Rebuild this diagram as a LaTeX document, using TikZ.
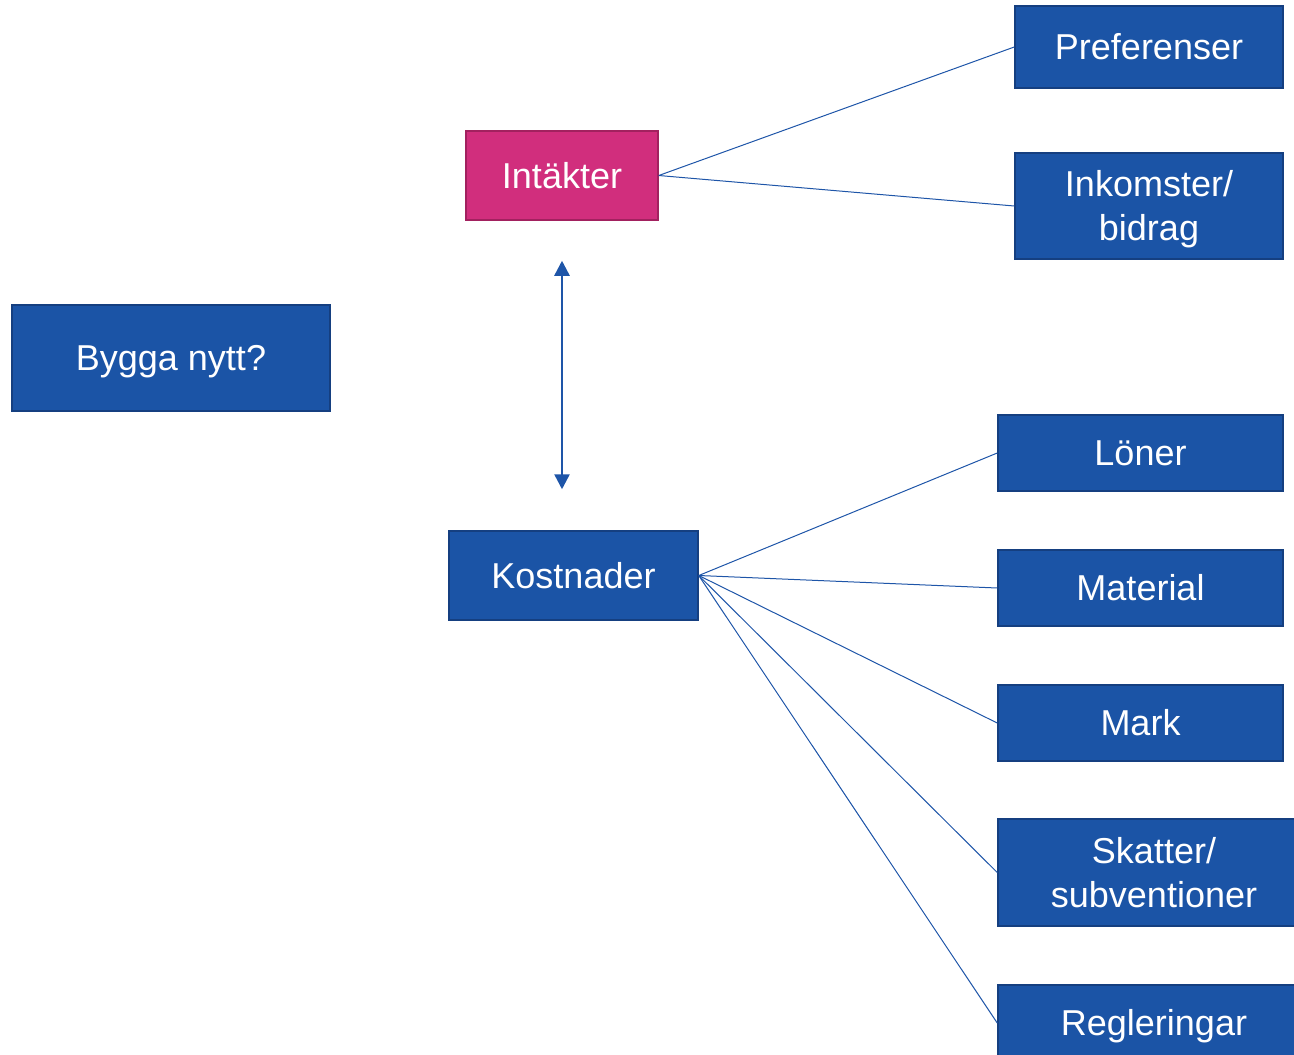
\documentclass[tikz,border=0pt]{standalone}
\usepackage{fontspec}
\setmainfont{Liberation Sans}
\usetikzlibrary{arrows.meta}
\definecolor{bfill}{HTML}{1B54A6}
\definecolor{bdraw}{HTML}{153F80}
\definecolor{mfill}{HTML}{D12E7D}
\definecolor{mdraw}{HTML}{A2215F}
\definecolor{lcol}{HTML}{1E55A8}
\newcommand{\lstrut}{\rule[-7.6pt]{0pt}{40.2pt}}
\tikzset{
  box/.style={draw=bdraw, fill=bfill, line width=1.5pt, text=white, align=center,
    inner sep=0pt, font=\fontsize{36}{44}\selectfont},
  mbox/.style={box, draw=mdraw, fill=mfill},
  link/.style={draw=lcol, line width=1pt},
  dbl/.style={draw=lcol, line width=2.5pt, {Triangle[length=15pt,width=15pt]}-{Triangle[length=15pt,width=15pt]}}
}
\begin{document}
\begin{tikzpicture}[x=1pt,y=-1pt]
\useasboundingbox (0,0) rectangle (1294,1055);
\node[box, minimum width=268pt, minimum height=82pt] (pref) at (1149,47) {\lstrut Preferenser};
\node[mbox, minimum width=192pt, minimum height=89pt] (int) at (562,175.5) {\lstrut Intäkter};
\node[box, minimum width=268pt, minimum height=106pt] (inko) at (1149,206) {\lstrut Inkomster/\\\lstrut bidrag};
\node[box, minimum width=318pt, minimum height=106pt] (bygg) at (171,358) {\lstrut Bygga nytt?};
\node[box, minimum width=285pt, minimum height=76pt] (lon) at (1140.5,453) {\lstrut Löner};
\node[box, minimum width=249pt, minimum height=89pt] (kost) at (573.5,575.5) {\lstrut Kostnader};
\node[box, minimum width=285pt, minimum height=76pt] (mat) at (1140.5,588) {\lstrut Material};
\node[box, minimum width=285pt, minimum height=76pt] (mark) at (1140.5,723) {\lstrut Mark};
\node[box, minimum width=312pt, minimum height=107pt] (skat) at (1154,872.5) {\lstrut Skatter/\\\lstrut subventioner};
\node[box, minimum width=312pt, minimum height=76pt] (regl) at (1154,1023) {\lstrut Regleringar};
\draw[link] (int.east) -- (pref.west);
\draw[link] (int.east) -- (inko.west);
\draw[link] (kost.east) -- (lon.west);
\draw[link] (kost.east) -- (mat.west);
\draw[link] (kost.east) -- (mark.west);
\draw[link] (kost.east) -- (skat.west);
\draw[link] (kost.east) -- (regl.west);
\draw[dbl, shorten <=40pt, shorten >=41pt] (int.south) -- (int.south |- kost.north);
\end{tikzpicture}
\end{document}
